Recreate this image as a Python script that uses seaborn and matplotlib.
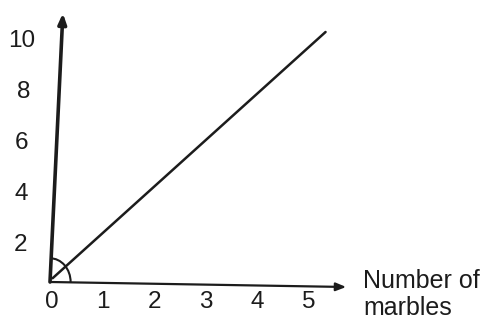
import matplotlib
matplotlib.use("Agg")
import matplotlib.pyplot as plt
from matplotlib.patches import Arc
import seaborn as sns
import pandas as pd

# Data
x_ticks = [0, 1, 2, 3, 4, 5]
y_ticks = [2, 4, 6, 8, 10]
line_x = [0.05, 5.35]
line_y = [0.15, 10.0]
x_label = "Number of\nmarbles"

sns.set_theme(style="white")
plt.rcParams["font.family"] = ["Liberation Sans", "DejaVu Sans"]

fig = plt.figure(figsize=(4.95, 3.23), dpi=100)
ax = fig.add_axes([0, 0, 1, 1])
ax.set_xlim(-0.971, 8.64)
ax.set_ylim(-1.64, 11.28)
ax.axis("off")

ink = "#1c1c1c"

df = pd.DataFrame({"marbles": line_x, "value": line_y})
sns.lineplot(data=df, x="marbles", y="value", ax=ax, color=ink, lw=1.8)

# Axes drawn by hand with arrow heads
ax.annotate("", xy=(0.25, 10.75), xytext=(0, 0),
            arrowprops=dict(arrowstyle="-|>,head_length=0.5,head_width=0.2",
                            color=ink, lw=2.6, shrinkA=0, shrinkB=0))
ax.annotate("", xy=(5.75, -0.2), xytext=(0, 0),
            arrowprops=dict(arrowstyle="-|>,head_length=0.5,head_width=0.2",
                            color=ink, lw=1.6, shrinkA=0, shrinkB=0))

# Angle mark at the origin
ax.add_patch(Arc((0, 0), 2 * 0.4, 2 * 0.95, theta1=0, theta2=90,
                 color=ink, lw=1.5))

# Tick labels
for v in x_ticks:
    ax.text(v + 0.03, -0.82, str(v), ha="center", va="center",
            fontsize=17.5, color=ink)
y_label_x = [-0.45, -0.43, -0.42, -0.39, -0.29]
for v, lx in zip(y_ticks, y_label_x):
    ax.text(lx, v - 0.35 - 0.02 * (10 - v), str(v), ha="right", va="center",
            fontsize=17.5, color=ink)

ax.text(6.08, -0.5, x_label, ha="left", va="center", fontsize=18,
        color=ink, linespacing=1.2)

fig.savefig("out.png", dpi=100)
